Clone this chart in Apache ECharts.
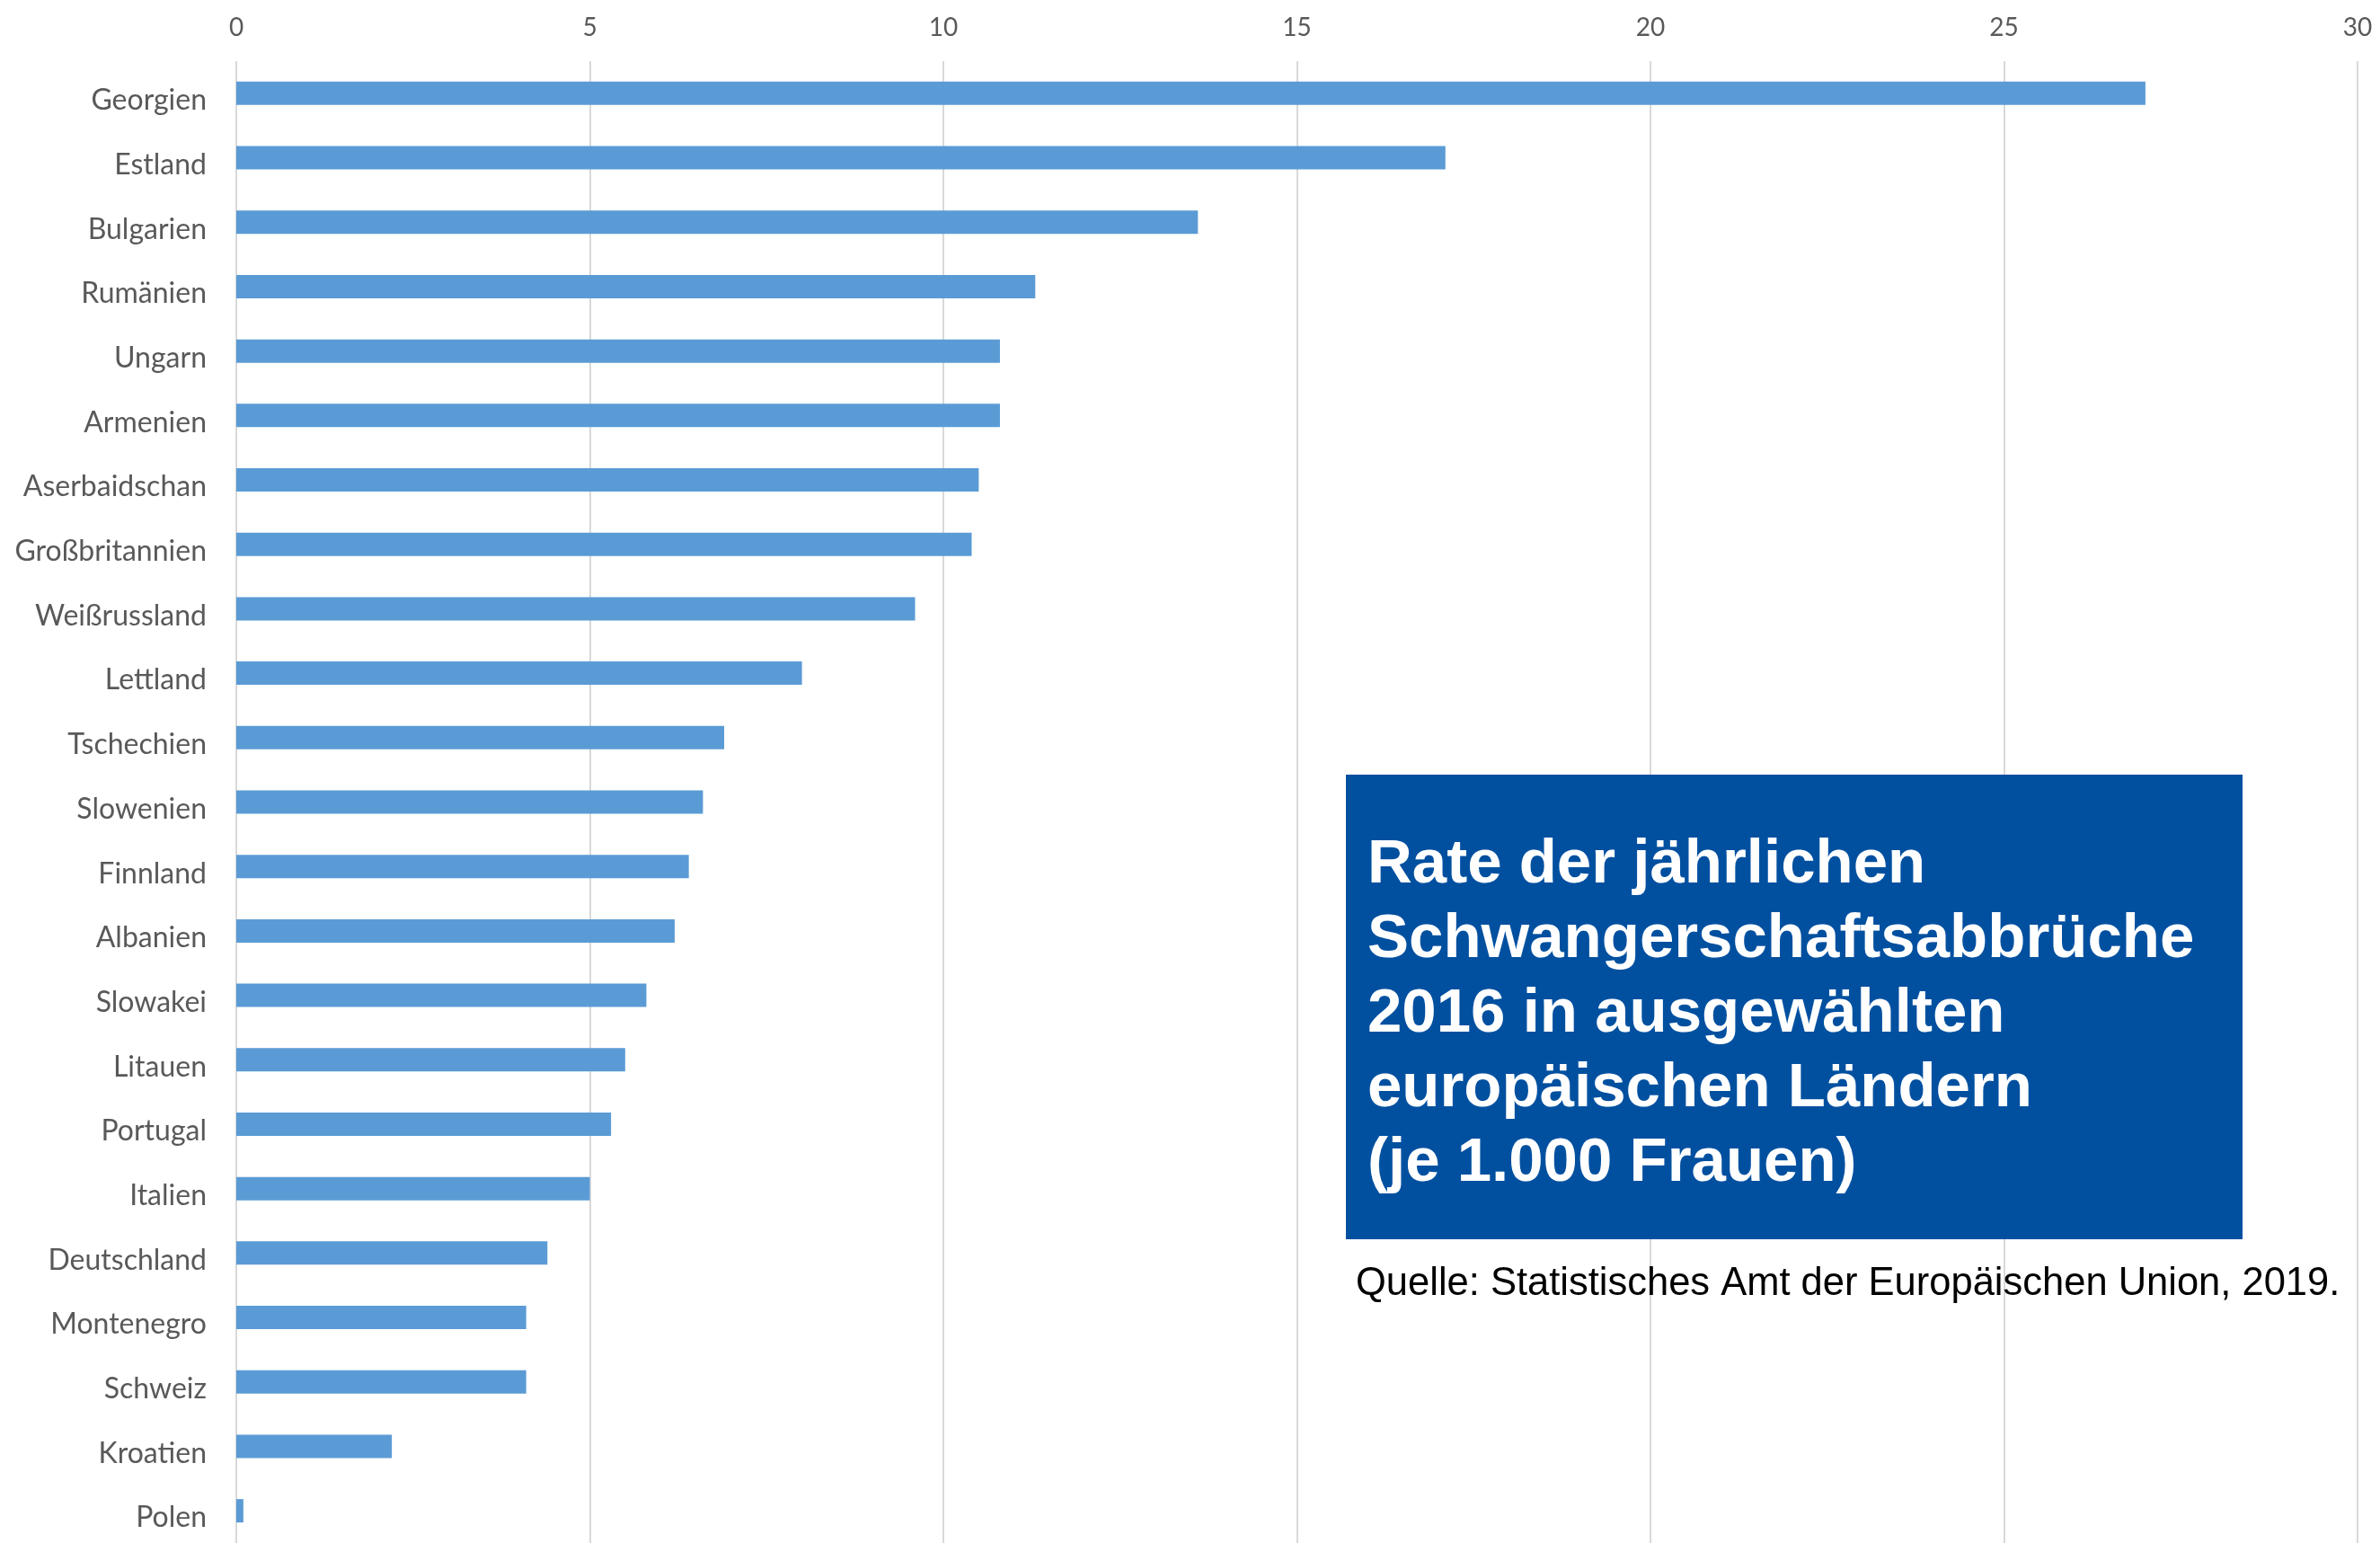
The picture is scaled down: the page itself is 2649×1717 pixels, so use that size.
<!DOCTYPE html>
<html>
<head>
<meta charset="utf-8">
<script src="https://cdn.jsdelivr.net/npm/echarts@6/dist/echarts.min.js"></script>
<style>
  html, body { margin: 0; padding: 0; background: #ffffff; }
  #chart { width: 2649px; height: 1717px; }
</style>
</head>
<body>
<div id="chart"></div>
<script>
const countries = ["Georgien", "Estland", "Bulgarien", "Rumänien", "Ungarn", "Armenien", "Aserbaidschan", "Großbritannien", "Weißrussland", "Lettland", "Tschechien", "Slowenien", "Finnland", "Albanien", "Slowakei", "Litauen", "Portugal", "Italien", "Deutschland", "Montenegro", "Schweiz", "Kroatien", "Polen"];
const rates = [27.0, 17.1, 13.6, 11.3, 10.8, 10.8, 10.5, 10.4, 9.6, 8.0, 6.9, 6.6, 6.4, 6.2, 5.8, 5.5, 5.3, 5.0, 4.4, 4.1, 4.1, 2.2, 0.1];
const axisMin = 0, axisMax = 30, axisStep = 5;
const titleLines = ["Rate der jährlichen", "Schwangerschaftsabbrüche", "2016 in ausgewählten", "europäischen Ländern", "(je 1.000 Frauen)"];
const sourceText = "Quelle: Statistisches Amt der Europäischen Union, 2019.";

const chart = echarts.init(document.getElementById('chart'), null, { renderer: 'canvas' });
chart.setOption({
  backgroundColor: '#ffffff',
  animation: false,
  grid: { left: 263, right: 25, top: 68, bottom: 0, containLabel: false },
  xAxis: {
    type: 'value', position: 'top',
    min: axisMin, max: axisMax, interval: axisStep,
    axisLine: { show: false }, axisTick: { show: false },
    axisLabel: { fontSize: 28, color: '#595959', fontFamily: 'Lato', margin: 23 },
    splitLine: { show: true, lineStyle: { color: '#d9d9d9', width: 2 } }
  },
  yAxis: {
    type: 'category', inverse: true, data: countries,
    axisLine: { show: false }, axisTick: { show: false },
    axisLabel: {
      margin: 33,
      formatter: function (v) { return '{c|' + v + '}'; },
      rich: { c: { fontSize: 32, color: '#595959', fontFamily: 'Lato', padding: [16, 0, 0, 0] } }
    }
  },
  series: [{
    type: 'bar', data: rates, barWidth: 26,
    itemStyle: { color: '#5B9BD5' }
  }],
  graphic: [
    { type: 'rect', shape: { x: 1498, y: 862, width: 998, height: 517 }, style: { fill: '#0150A0' }, z: 100 },
    { type: 'text', x: 1522, y: 1129, z: 101,
      style: { text: titleLines.join('\n'), fill: '#ffffff', font: 'bold 69px "Liberation Sans", Arial, sans-serif', lineHeight: 83, verticalAlign: 'middle', align: 'left' } },
    { type: 'text', x: 1509, y: 1429, z: 101,
      style: { text: sourceText, fill: '#000000', font: '43.5px "Liberation Sans", Arial, sans-serif', verticalAlign: 'middle', align: 'left' } }
  ]
});
</script>
</body>
</html>
